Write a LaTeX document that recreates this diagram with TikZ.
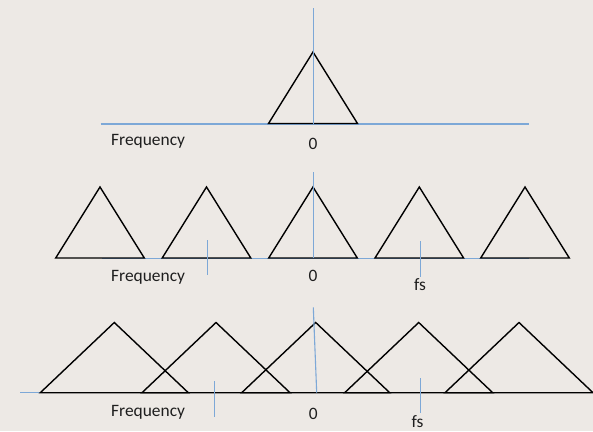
\documentclass[tikz,border=0pt]{standalone}
\usepackage{fontspec}
\setmainfont{Carlito}
\definecolor{bgc}{RGB}{237,233,229}
\definecolor{axisblue}{RGB}{125,168,215}
\definecolor{txt}{RGB}{30,30,30}
\begin{document}
\begin{tikzpicture}[x=1pt,y=-1pt,
  tri/.style={draw=black,line width=1.4pt,line join=miter},
  axis/.style={draw=axisblue,line width=1.1pt},
  lbl/.style={inner sep=0pt,font=\fontsize{17.4}{20}\selectfont,text=txt}]
\fill[bgc] (0,0) rectangle (593,431);
\useasboundingbox (0,0) rectangle (593,431);
% ---------- top row ----------
\draw[axis] (100.7,124) -- (529,124);
\draw[tri] (268.5,123.5) -- (313,52) -- (357.5,123.5) -- cycle;
\draw[axis] (313.3,8) -- (313.3,123.5);
\node[lbl,anchor=base west] (f1) at (111,145) {Frequency};
\node[lbl,anchor=base] (z1) at (313,149) {0};
% ---------- middle row ----------
\draw[axis] (101.7,258.7) -- (529,258.7);
\foreach \c in {100,206.5,313,419.3,525}
  \draw[tri] (\c-44.3,258) -- (\c,187) -- (\c+44.3,258) -- cycle;
\draw[axis] (313.3,172.3) -- (313.3,258);
\draw[axis] (207.3,240) -- (207.3,275);
\draw[axis] (420.7,241) -- (420.7,276.7);
\node[lbl,anchor=base west] (f2) at (111,281) {Frequency};
\node[lbl,anchor=base] (z2) at (313,281.7) {0};
\node[lbl,anchor=base] (s2) at (420,290) {fs};
% ---------- bottom row ----------
\draw[axis] (20,392.7) -- (593,392.7);
\foreach \c in {114.3,216,315.7,418.7,519}
  \draw[tri] (\c-74,392.7) -- (\c,322.5) -- (\c+74,392.7) -- cycle;
\draw[axis] (313.3,307.3) -- (316.7,392.7);
\draw[axis] (214.3,381) -- (214.3,416.7);
\draw[axis] (420.7,378.3) -- (420.7,413.3);
\node[lbl,anchor=base west] (f3) at (111,416) {Frequency};
\node[lbl,anchor=base] (z3) at (313.3,419) {0};
\node[lbl,anchor=base] (s3) at (417.5,427.5) {fs};
\end{tikzpicture}
\end{document}
